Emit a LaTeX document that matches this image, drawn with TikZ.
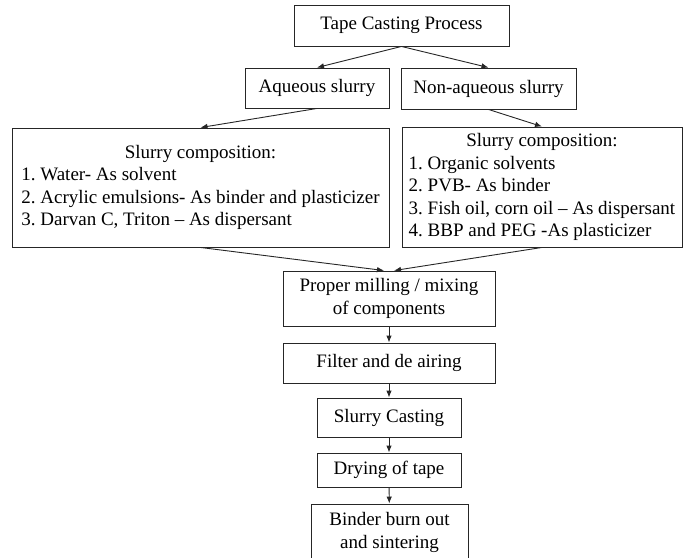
\documentclass[tikz,border=0pt]{standalone}
\usepackage{fontspec}
\setmainfont{Liberation Serif}
\frenchspacing
\usetikzlibrary{arrows.meta}
\tikzset{
  stagebox/.style = {draw = black!85, line width = 0.9pt, inner sep = 0pt, align = center, font = \fontsize{19}{22.5}\selectfont},
  flowarrow/.style = {draw = black!85, line width = 0.9pt, -{Latex[length = 7pt, width = 5.5pt]}}
}
\begin{document}
\begin{tikzpicture}[x = 1pt, y = -1pt]
\clip (0,0) rectangle (685,557);
% top of the tree
\node[stagebox, minimum width = 215pt, minimum height = 41pt] (process) at (401.5,25.5) {Tape Casting Process};
\node[stagebox, minimum width = 144pt, minimum height = 40pt] (aqueous) at (317,88) {Aqueous slurry};
\node[stagebox, minimum width = 175pt, minimum height = 41pt] (nonaqueous) at (488.5,88.5) {Non-aqueous slurry};
% the two compositions
\node[stagebox, minimum width = 377pt, minimum height = 119pt] (aqcomp) at (200.5,187.5) {\begin{tabular}{@{}l@{}}
\multicolumn{1}{@{}c@{}}{Slurry composition:}\\
1. Water- As solvent\\
2. Acrylic emulsions- As binder and plasticizer\\
3. Darvan C, Triton -- As dispersant
\end{tabular}};
\node[stagebox, minimum width = 280pt, minimum height = 120pt] (nonaqcomp) at (542,187) {\begin{tabular}{@{}l@{}}
\multicolumn{1}{@{}c@{}}{Slurry composition:}\\
1. Organic solvents\\
2. PVB- As binder\\
3. Fish oil, corn oil -- As dispersant\\
4. BBP and PEG -As plasticizer
\end{tabular}};
% the common steps
\node[stagebox, minimum width = 212pt, minimum height = 55pt] (milling) at (389,298.5) {Proper milling / mixing\\of components};
\node[stagebox, minimum width = 212pt, minimum height = 40pt] (filter) at (389,363) {Filter and de airing};
\node[stagebox, minimum width = 144pt, minimum height = 39pt] (casting) at (389,417.5) {Slurry Casting};
\node[stagebox, minimum width = 144pt, minimum height = 34pt] (drying) at (389,470) {Drying of tape};
\node[stagebox, minimum width = 157pt, minimum height = 57pt] (burnout) at (389.5,532.5) {Binder burn out\\and sintering};
\draw[flowarrow] (process.south) -- (aqueous.north);
\draw[flowarrow] (process.south) -- (nonaqueous.north);
\draw[flowarrow] (aqueous.south) -- (aqcomp.north);
\draw[flowarrow] (nonaqueous.south) -- (nonaqcomp.north);
\draw[flowarrow] (aqcomp.south) -- ([xshift = -5pt]milling.north);
\draw[flowarrow] (nonaqcomp.south) -- ([xshift = 5pt]milling.north);
\draw[flowarrow] (milling) -- (filter);
\draw[flowarrow] (filter) -- (casting);
\draw[flowarrow] (casting) -- (drying);
\draw[flowarrow] (drying) -- (burnout);
\end{tikzpicture}
\end{document}
